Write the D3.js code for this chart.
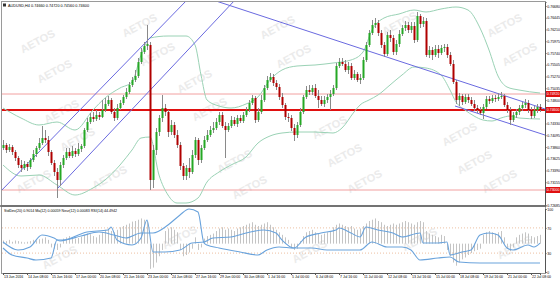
<!DOCTYPE html>
<html><head><meta charset="utf-8">
<script src="https://cdn.jsdelivr.net/npm/d3@7"></script>
<style>html,body{margin:0;padding:0;background:#fff;overflow:hidden}svg{display:block;font-family:"Liberation Sans",Arial,sans-serif}</style>
</head><body><svg id="c" width="560" height="281"></svg>
<script>
// ---------- DATA (AUDUSD, H4) ----------
const opens=[0.7384,0.7390,0.7380,0.7386,0.7376,0.7364,0.7350,0.7344,0.7352,0.7346,
0.7360,0.7372,0.7384,0.7394,0.7404,0.7400,0.7376,0.7354,0.7336,0.7320,
0.7350,0.7364,0.7376,0.7368,0.7378,0.7372,0.7382,0.7388,0.7420,0.7436,
0.7446,0.7442,0.7450,0.7446,0.7460,0.7472,0.7480,0.7456,0.7444,0.7464,
0.7474,0.7486,0.7496,0.7510,0.7520,0.7528,0.7556,0.7576,0.7588,0.7590,
0.7320,0.7380,0.7416,0.7444,0.7464,0.7456,0.7416,0.7430,0.7410,0.7390,
0.7348,0.7328,0.7344,0.7336,0.7370,0.7400,0.7360,0.7384,0.7400,0.7410,
0.7420,0.7424,0.7436,0.7450,0.7428,0.7420,0.7428,0.7440,0.7432,0.7444,
0.7438,0.7450,0.7460,0.7474,0.7484,0.7440,0.7456,0.7480,0.7504,0.7520,
0.7526,0.7514,0.7506,0.7486,0.7470,0.7446,0.7444,0.7424,0.7410,0.7430,
0.7456,0.7486,0.7500,0.7496,0.7504,0.7488,0.7480,0.7472,0.7480,0.7486,
0.7492,0.7504,0.7548,0.7556,0.7552,0.7540,0.7548,0.7524,0.7532,0.7520,
0.7524,0.7560,0.7590,0.7614,0.7630,0.7634,0.7614,0.7590,0.7572,0.7610,
0.7604,0.7576,0.7592,0.7612,0.7624,0.7630,0.7620,0.7628,0.7600,0.7648,
0.7632,0.7638,0.7570,0.7580,0.7570,0.7582,0.7574,0.7584,0.7586,0.7570,
0.7552,0.7516,0.7480,0.7488,0.7476,0.7486,0.7480,0.7472,0.7464,0.7460,
0.7454,0.7466,0.7482,0.7478,0.7484,0.7482,0.7486,0.7488,0.7470,0.7460,
0.7440,0.7450,0.7456,0.7464,0.7470,0.7474,0.7460,0.7448,0.7460,0.7466];
const highs=[0.7400,0.7394,0.7392,0.7390,0.7380,0.7368,0.7360,0.7358,0.7356,0.7364,
0.7380,0.7388,0.7404,0.7428,0.7420,0.7408,0.7380,0.7360,0.7344,0.7356,
0.7370,0.7384,0.7384,0.7388,0.7384,0.7394,0.7392,0.7424,0.7444,0.7454,
0.7456,0.7460,0.7456,0.7480,0.7484,0.7488,0.7484,0.7464,0.7472,0.7480,
0.7490,0.7504,0.7516,0.7526,0.7540,0.7564,0.7584,0.7596,0.7630,0.7596,
0.7390,0.7424,0.7450,0.7490,0.7472,0.7460,0.7440,0.7436,0.7420,0.7396,
0.7354,0.7350,0.7364,0.7380,0.7406,0.7404,0.7390,0.7408,0.7420,0.7428,
0.7436,0.7444,0.7456,0.7456,0.7436,0.7434,0.7448,0.7446,0.7450,0.7450,
0.7456,0.7466,0.7480,0.7490,0.7488,0.7464,0.7490,0.7510,0.7528,0.7534,
0.7532,0.7520,0.7512,0.7494,0.7474,0.7454,0.7450,0.7432,0.7436,0.7464,
0.7490,0.7508,0.7510,0.7510,0.7512,0.7500,0.7488,0.7488,0.7492,0.7500,
0.7510,0.7554,0.7564,0.7564,0.7560,0.7556,0.7554,0.7540,0.7536,0.7532,
0.7566,0.7596,0.7620,0.7640,0.7644,0.7640,0.7620,0.7596,0.7616,0.7620,
0.7610,0.7600,0.7620,0.7630,0.7638,0.7636,0.7636,0.7636,0.7656,0.7652,
0.7646,0.7644,0.7588,0.7586,0.7590,0.7590,0.7590,0.7592,0.7592,0.7576,
0.7560,0.7520,0.7494,0.7492,0.7492,0.7492,0.7486,0.7480,0.7470,0.7466,
0.7472,0.7488,0.7488,0.7490,0.7490,0.7494,0.7496,0.7492,0.7476,0.7466,
0.7456,0.7462,0.7470,0.7476,0.7482,0.7480,0.7466,0.7468,0.7472,0.7472];
const lows=[0.7380,0.7374,0.7376,0.7370,0.7358,0.7344,0.7336,0.7340,0.7338,0.7342,
0.7356,0.7366,0.7380,0.7390,0.7394,0.7368,0.7350,0.7328,0.7284,0.7308,
0.7344,0.7360,0.7364,0.7364,0.7366,0.7368,0.7376,0.7384,0.7416,0.7432,
0.7436,0.7438,0.7440,0.7444,0.7456,0.7468,0.7452,0.7438,0.7440,0.7460,
0.7470,0.7482,0.7492,0.7506,0.7516,0.7524,0.7552,0.7572,0.7580,0.7300,
0.7304,0.7370,0.7408,0.7436,0.7448,0.7406,0.7410,0.7404,0.7384,0.7340,
0.7320,0.7320,0.7324,0.7332,0.7364,0.7350,0.7354,0.7380,0.7396,0.7406,
0.7414,0.7420,0.7430,0.7424,0.7364,0.7416,0.7424,0.7428,0.7426,0.7434,
0.7434,0.7446,0.7456,0.7470,0.7434,0.7436,0.7452,0.7476,0.7500,0.7516,
0.7508,0.7500,0.7480,0.7464,0.7440,0.7436,0.7418,0.7398,0.7404,0.7426,
0.7452,0.7482,0.7490,0.7490,0.7484,0.7464,0.7468,0.7466,0.7474,0.7460,
0.7488,0.7500,0.7544,0.7548,0.7536,0.7532,0.7520,0.7520,0.7516,0.7512,
0.7520,0.7556,0.7586,0.7610,0.7624,0.7608,0.7584,0.7566,0.7568,0.7596,
0.7570,0.7570,0.7586,0.7608,0.7618,0.7614,0.7614,0.7594,0.7596,0.7624,
0.7626,0.7566,0.7564,0.7560,0.7566,0.7564,0.7570,0.7576,0.7564,0.7548,
0.7512,0.7472,0.7468,0.7470,0.7472,0.7474,0.7468,0.7458,0.7454,0.7450,
0.7442,0.7462,0.7472,0.7474,0.7476,0.7478,0.7482,0.7466,0.7454,0.7430,
0.7436,0.7444,0.7450,0.7458,0.7464,0.7454,0.7442,0.7444,0.7454,0.7456];
const closes=[0.7390,0.7380,0.7386,0.7376,0.7364,0.7350,0.7344,0.7352,0.7346,0.7360,
0.7372,0.7384,0.7394,0.7404,0.7400,0.7376,0.7354,0.7336,0.7320,0.7350,
0.7364,0.7376,0.7368,0.7378,0.7372,0.7382,0.7388,0.7420,0.7436,0.7446,
0.7442,0.7450,0.7446,0.7460,0.7472,0.7480,0.7456,0.7444,0.7464,0.7474,
0.7486,0.7496,0.7510,0.7520,0.7528,0.7556,0.7576,0.7588,0.7592,0.7320,
0.7380,0.7416,0.7444,0.7464,0.7456,0.7416,0.7430,0.7410,0.7390,0.7348,
0.7328,0.7344,0.7336,0.7370,0.7400,0.7360,0.7384,0.7400,0.7410,0.7420,
0.7424,0.7436,0.7450,0.7428,0.7420,0.7428,0.7440,0.7432,0.7444,0.7438,
0.7450,0.7460,0.7474,0.7484,0.7440,0.7456,0.7480,0.7504,0.7520,0.7526,
0.7514,0.7506,0.7486,0.7470,0.7446,0.7444,0.7424,0.7410,0.7430,0.7456,
0.7486,0.7500,0.7496,0.7504,0.7488,0.7480,0.7472,0.7480,0.7486,0.7492,
0.7504,0.7548,0.7556,0.7552,0.7540,0.7548,0.7524,0.7532,0.7520,0.7524,
0.7560,0.7590,0.7614,0.7630,0.7634,0.7614,0.7590,0.7572,0.7610,0.7604,
0.7576,0.7592,0.7612,0.7624,0.7630,0.7620,0.7628,0.7600,0.7648,0.7632,
0.7638,0.7570,0.7580,0.7570,0.7582,0.7574,0.7584,0.7586,0.7570,0.7552,
0.7516,0.7480,0.7488,0.7476,0.7486,0.7480,0.7472,0.7464,0.7460,0.7454,
0.7466,0.7482,0.7478,0.7484,0.7482,0.7486,0.7488,0.7470,0.7460,0.7440,
0.7450,0.7456,0.7464,0.7470,0.7474,0.7460,0.7448,0.7460,0.7466,0.7460];

// Bollinger band readings (bar index, price)
const upperIdx=[0,6,12,18,24,30,34,39,43,46,49,55,61,64,66,68,72,76,81,85,89,93,98,104,110,116,120,123,127,132,137,141,146,151,155,159,162,165,168,172,179];
const upperBand=[0.7464,0.7444,0.7430,0.7436,0.7420,0.7460,0.7484,0.7504,0.7516,0.7570,0.7604,0.7608,0.7608,0.7590,0.7530,0.7480,0.7468,0.7464,0.7472,0.7486,0.7520,0.7540,0.7548,0.7550,0.7554,0.7560,0.7576,0.7620,0.7644,0.7652,0.7660,0.7656,0.7662,0.7666,0.7660,0.7624,0.7580,0.7528,0.7506,0.7500,0.7494];
const lowerIdx=[0,6,12,18,24,30,34,39,43,46,49,52,55,58,61,65,68,72,76,81,85,89,93,98,104,110,113,117,119,122,125,129,133,137,141,146,149,151,154,157,160,163,166,169,172,179];
const lowerBand=[0.7350,0.7328,0.7330,0.7310,0.7290,0.7304,0.7320,0.7350,0.7380,0.7404,0.7406,0.7330,0.7290,0.7274,0.7274,0.7284,0.7316,0.7336,0.7350,0.7366,0.7394,0.7408,0.7414,0.7416,0.7416,0.7414,0.7424,0.7456,0.7470,0.7480,0.7490,0.7510,0.7530,0.7546,0.7544,0.7530,0.7500,0.7476,0.7460,0.7448,0.7440,0.7438,0.7444,0.7448,0.7444,0.7442];

// horizontal levels and trend lines (bar index, price)
const levels=[0.7492,0.7460,0.7300];
const trendLines=[[[-1,0.7296],[61.33,0.7680]],[[18.33,0.7304],[77.33,0.7680]],[[70,0.7680],[180.67,0.7462]],[[150.67,0.7468],[180.67,0.7410]]];

// lower panel indicator
const lineAIdx=[0,5,9,13,17,19,28,35,36,38,43,46,48,50,54,59,63,67,70,76,81,87,91,93,97,103,108,115,119,123,128,133,136,139,145,149,152,159,169,179];
const lineA=[47.6,34.9,39.7,58.7,54.0,49.2,63.5,66.7,71.4,50.8,42.9,54.0,82.5,31.7,31.7,34.9,46.0,47.6,54.0,55.6,61.9,66.7,61.9,50.8,38.1,38.1,34.9,34.9,34.9,47.6,39.7,39.7,34.9,19.0,22.2,23.8,15.9,14.3,14.3,14.3];
const lineBIdx=[0,3,8,11,16,18,20,26,32,37,41,46,50,55,59,62,65,67,68,72,79,85,88,92,97,101,106,111,112,116,119,121,125,130,133,139,140,145,148,149,153,156,159,162,165,168,170,175,177,179];
const lineB=[38.1,27.0,22.2,19.0,22.2,50.8,50.8,57.1,63.5,58.7,54.0,61.9,61.9,74.6,90.5,100,95.2,46.0,42.9,38.1,31.7,27.0,34.9,39.7,38.1,55.6,61.9,66.7,69.8,61.9,55.6,71.4,66.7,61.9,55.6,61.9,46.0,46.0,47.6,27.0,31.7,34.9,58.7,61.9,58.7,38.1,34.9,42.9,39.7,46.0];
const histVals=[5,4,6,3,5, 4,3,2,3,4,6,5,7, 8,10,6,-6,-8,-10,-6,
8,10,12,10,8,9,11,14,16,15,12,10,14,
18,22,24,20,18,22,26,28,30,32,35,36,38,40,38,36,
-40,-38,-30,-20,-10,
20,24,26,22,18,-10,-20,-18,-14,-8,10,
-10,-6,8,12,14,16,
20,24,26,22,24,22,20,24,26,28,30,32,34,30,28,30,32,34,30,26,22,18,14,10,
6,-6,-10,-8,4,12,18,20,22,18,16,14,16,18,20,26,30,32,
30,28,26,28,24,22,24,28,32,36,38,40,
36,34,30,28,30,32,30,32,34,36,34,32,30,34,36,34,
20,16,14,12,10,14,12,-10,-20,-30,-35,-30,-25,-22,-18,
-15,-12,-10,-8,14,18,20,18,16,18,20,
10,-8,-12,-6,10,14,16,18,16,12,10,12,14];

// tick labels
const priceTicks=[0.76680,0.76445,0.76210,0.75975,0.75740,0.75505,0.75270,0.75035,0.74800,0.74565,0.74330,0.74095,0.73860,0.73625,0.73390,0.73155,0.72920,0.72685];
const lowTicks=[100,70,30,0];
const xLabels=["13 Jun 2016","14 Jun 08:00","15 Jun 16:00","17 Jun 00:00","20 Jun 08:00","21 Jun 16:00","23 Jun 00:00","24 Jun 08:00","27 Jun 16:00","29 Jun 00:00","30 Jun 08:00","1 Jul 16:00","5 Jul 00:00","6 Jul 08:00","7 Jul 16:00","11 Jul 00:00","12 Jul 08:00","13 Jul 16:00","15 Jul 00:00","18 Jul 08:00","19 Jul 16:00","21 Jul 00:00","22 Jul 08:00"];
const xLabelIdx=xLabels.map((d,i)=>i*8);
const title="AUDUSD,H4  0.74660 0.74720 0.74560 0.74600";
const subTitle="StdDev(20) 0.9014  Ma(12) 0.00059  Neur(12) 0.00083  RSI(14) 44.4942";

// ---------- LAYOUT ----------
const plotL=2, plotR=545, mainT=2, mainB=205, lowT=207, lowB=273;
const svg=d3.select("#c");
const n=closes.length;
const x=d3.scaleLinear().domain([0,n-1]).range([3,540]);
const y=d3.scaleLinear().domain([0.7270,0.7676]).range([mainB,mainT]);
const yl=d3.scaleLinear().domain([0,100]).range([272,209]);
const FS=3.5;

svg.append("rect").attr("width",560).attr("height",281).attr("fill","#fff");

const defs=svg.append("defs");
defs.append("clipPath").attr("id","cm").append("rect").attr("x",plotL).attr("y",mainT).attr("width",plotR-plotL).attr("height",mainB-mainT);
defs.append("clipPath").attr("id","cl").append("rect").attr("x",plotL).attr("y",lowT).attr("width",plotR-plotL).attr("height",lowB-lowT);

// watermark
const wm=[[38,42],[55,72],[140,26],[158,55],[278,28],[294,57],[400,24],[505,26],[520,55],[62,112],[78,140],[195,82],[210,110],[330,128],[345,156],[460,135],[475,163],[110,178],[235,162],[250,188],[365,182],[500,182],[34,182],[180,238],[310,252],[420,240],[515,248],[60,258]];
svg.append("g").selectAll("text").data(wm).join("text")
 .attr("transform",d=>`translate(${d[0]},${d[1]}) rotate(-28)`)
 .attr("text-anchor","middle").attr("dominant-baseline","middle")
 .attr("font-size",11).attr("font-weight","bold").attr("fill","#ebebeb").text("AETOS");

// main panel
const gm=svg.append("g").attr("clip-path","url(#cm)");
const lvStyle=[{c:"#f2a0a0",w:1},{c:"#e01010",w:2},{c:"#f2a0a0",w:1}];
gm.selectAll("line.lv").data(levels).join("line").attr("class","lv")
 .attr("x1",plotL).attr("x2",plotR).attr("y1",d=>y(d)).attr("y2",d=>y(d))
 .attr("stroke",(d,i)=>lvStyle[i].c).attr("stroke-width",(d,i)=>lvStyle[i].w);
const bl=d3.line().curve(d3.curveMonotoneX);
gm.append("path").attr("d",bl(upperIdx.map((d,i)=>[x(d),y(upperBand[i])]))).attr("fill","none").attr("stroke","#9ad2b5").attr("stroke-width",1);
gm.append("path").attr("d",bl(lowerIdx.map((d,i)=>[x(d),y(lowerBand[i])]))).attr("fill","none").attr("stroke","#9ad2b5").attr("stroke-width",1);
gm.selectAll("line.tl").data(trendLines).join("line").attr("class","tl")
 .attr("x1",d=>x(d[0][0])).attr("y1",d=>y(d[0][1])).attr("x2",d=>x(d[1][0])).attr("y2",d=>y(d[1][1]))
 .attr("stroke","#6a6ae0").attr("stroke-width",1);
const idx=d3.range(n);
gm.selectAll("line.wk").data(idx).join("line").attr("class","wk")
 .attr("x1",i=>x(i)+0.5).attr("x2",i=>x(i)+0.5).attr("y1",i=>y(highs[i])).attr("y2",i=>y(lows[i]))
 .attr("stroke","#8a8a8a").attr("stroke-width",1);
gm.selectAll("rect.bd").data(idx).join("rect").attr("class","bd")
 .attr("x",i=>x(i)-0.5).attr("width",2)
 .attr("y",i=>Math.min(y(opens[i]),y(closes[i])))
 .attr("height",i=>Math.max(1,Math.abs(y(opens[i])-y(closes[i]))))
 .attr("fill",i=>closes[i]>=opens[i]?"#25a825":"#b00000");

// title
svg.append("rect").attr("x",3).attr("y",3.5).attr("width",3).attr("height",3).attr("fill","#333");
svg.append("text").attr("x",8).attr("y",7).attr("font-size",3.8).attr("fill","#000").text(title);

// lower panel
const gl=svg.append("g").attr("clip-path","url(#cl)");
gl.selectAll("line.lev").data([70,30]).join("line").attr("class","lev")
 .attr("x1",plotL).attr("x2",plotR).attr("y1",d=>yl(d)).attr("y2",d=>yl(d))
 .attr("stroke","#e8b08a").attr("stroke-dasharray","1,2").attr("stroke-width",0.8);
const base=45;
gl.selectAll("line.h").data(idx).join("line").attr("class","h")
 .attr("x1",i=>x(i)+0.5).attr("x2",i=>x(i)+0.5).attr("y1",yl(base)).attr("y2",i=>yl(base+histVals[i]))
 .attr("stroke","#c4c4c4").attr("stroke-width",1);
const ll=d3.line().curve(d3.curveMonotoneX);
gl.append("path").attr("d",ll(lineAIdx.map((d,i)=>[x(d),yl(lineA[i])]))).attr("fill","none").attr("stroke","#6aa3dc").attr("stroke-width",1.1);
gl.append("path").attr("d",ll(lineBIdx.map((d,i)=>[x(d),yl(lineB[i])]))).attr("fill","none").attr("stroke","#6aa3dc").attr("stroke-width",1.1);
svg.append("text").attr("x",4).attr("y",212).attr("font-size",3.6).attr("fill","#000").text(subTitle);

// frames
svg.append("rect").attr("x",plotL-0.5).attr("y",mainT-0.5).attr("width",plotR-plotL+1).attr("height",mainB-mainT+1).attr("fill","none").attr("stroke","#9a9a9a");
svg.append("rect").attr("x",plotL-0.5).attr("y",lowT-0.5).attr("width",plotR-plotL+1).attr("height",lowB-lowT+1).attr("fill","none").attr("stroke","#9a9a9a");
svg.append("line").attr("x1",0).attr("x2",plotR).attr("y1",206).attr("y2",206).attr("stroke","#666").attr("stroke-width",1.5);

// axes (price ticks hidden by the level labels are not drawn, as in the reference)
const shownTicks=priceTicks.filter(t=>levels.every(l=>Math.abs(y(t)-y(l))>5));
const ya=svg.append("g").attr("transform",`translate(${plotR},0)`)
 .call(d3.axisRight(y).tickValues(shownTicks).tickFormat(d3.format(".5f")).tickSize(1.5).tickPadding(0.8));
const yla=svg.append("g").attr("transform",`translate(${plotR},0)`)
 .call(d3.axisRight(yl).tickValues(lowTicks).tickFormat(d3.format("d")).tickSize(1.5).tickPadding(0.8));
const xa=svg.append("g").attr("transform",`translate(0,${lowB})`)
 .call(d3.axisBottom(x).tickValues(xLabelIdx).tickFormat((d,i)=>xLabels[i]).tickSize(2).tickPadding(1));
[ya,yla,xa].forEach(g=>{g.selectAll("path.domain").attr("stroke","#555");g.selectAll(".tick line").attr("stroke","#555");
 g.selectAll("text").attr("font-size",FS).attr("fill","#000").attr("font-family","Liberation Sans, Arial, sans-serif");});
xa.selectAll("text").attr("text-anchor","start").attr("dx",0.5);

// level labels
const lab=svg.append("g").selectAll("g").data(levels).join("g").attr("transform",d=>`translate(${plotR+1},${y(d)})`);
lab.append("rect").attr("x",0).attr("y",-3).attr("width",14).attr("height",6).attr("fill","#e01010");
lab.append("text").attr("x",0.8).attr("y",1.3).attr("font-size",FS).attr("fill","#fff").text(d=>d3.format(".5f")(d));
</script></body></html>
